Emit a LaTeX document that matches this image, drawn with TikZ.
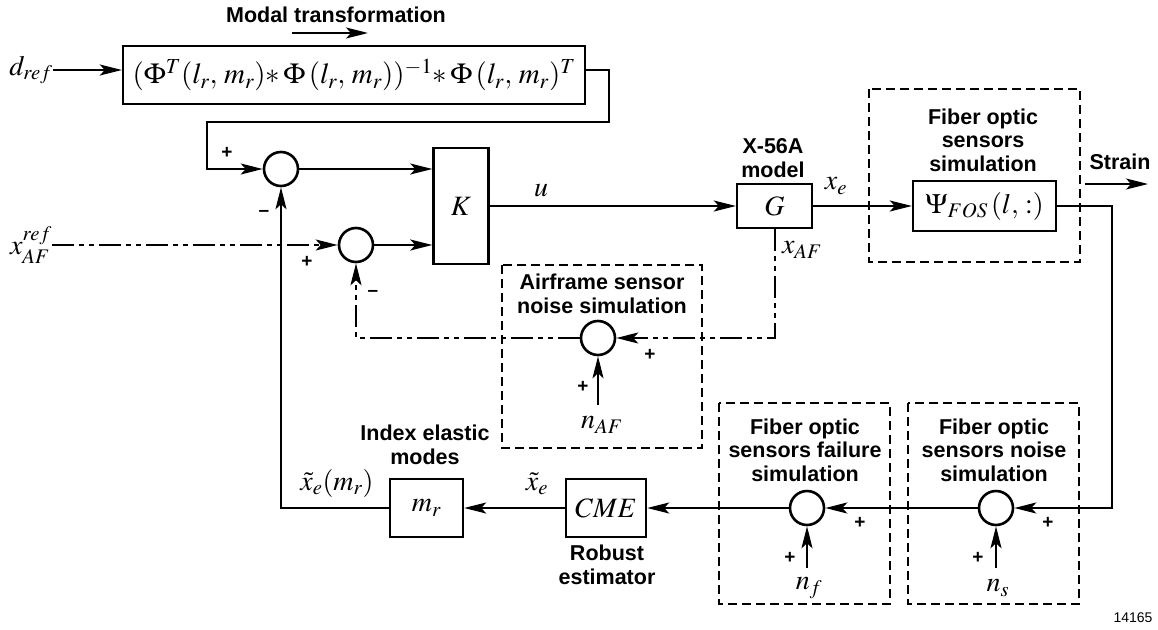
\documentclass[tikz,border=0pt]{standalone}
\usepackage{mathptmx}
\usepackage[no-math]{fontspec}
\setmainfont{Liberation Serif}
\setsansfont{Liberation Sans}
\usetikzlibrary{arrows.meta,calc}
\newcommand\lblfont{\sffamily\bfseries\fontsize{21.5}{23.5}\selectfont}
\newcommand\mthfont{\fontsize{28}{32}\selectfont}
\newcommand\sgnfont{\sffamily\bfseries\fontsize{19}{20}\selectfont}
\begin{document}
\begin{tikzpicture}[x=1pt,y=-1pt,
  lw/.style={line width=2pt},
  arr/.style={line width=2pt,-{Stealth[length=22pt,width=11pt,inset=5pt]}},
  dd/.style={dash pattern=on 22pt off 5pt on 5pt off 5pt on 5pt off 5pt},
  dbox/.style={line width=2.4pt,dash pattern=on 9pt off 5pt},
  blk/.style={draw,line width=2.4pt,inner sep=0pt,font=\mthfont},
  sumc/.style={draw,circle,line width=2.6pt,minimum size=34pt,inner sep=0pt},
  lbl/.style={font=\lblfont,align=center,inner sep=0pt},
  mth/.style={font=\mthfont,inner sep=0pt},
  sgn/.style={font=\sgnfont,inner sep=0pt}]
\useasboundingbox (0,0) rectangle (1158,629);

% top: modal transformation
\node[lbl] (modal) at (336,15) {Modal transformation};
\coordinate (ma1) at (292,33);
\coordinate (ma2) at (368,33);
\draw[arr] (ma1) -- (ma2);
\node[mth] (dref) at (31,70) {$d_{ref}$};
\node[blk,minimum width=462pt,minimum height=58pt,font=\fontsize{29}{32}\selectfont] (tbox) at (354,75)
  {$(\Phi^{T}(l_r,\,m_r){\ast}\,\Phi\,(l_r,\,m_r))^{-1}{\ast}\,\Phi\,(l_r,\,m_r)^{T}$};
\draw[arr] (dref.east) -- (dref.east -| tbox.west);

% summing junctions and K
\node[sumc] (s1) at (281,169) {};
\node[sumc] (s2) at (356,245) {};
\node[blk,minimum width=55pt,minimum height=116pt] (K) at (461,206) {$K$};
\coordinate (c1) at (609,122);
\coordinate (c2) at (207,122);
\draw[arr] (tbox.east |- dref.east) -| (c1) -- (c2) |- (s1);
\draw[arr] (s1) -- (s1 -| K.west);
\draw[arr] (s2) -- (s2 -| K.west);
\node[mth] (xref) at (31,245) {$x^{ref}_{AF}$};
\draw[arr,dd] (xref) -- (s2);
\node[sgn] (p1) at (227,153) {+};
\node[sgn] (m1) at (264,213) {--};
\node[sgn] (p2) at (307,262) {+};
\node[sgn] (m2) at (373,293) {--};

% plant
\node[blk,minimum width=75pt,minimum height=44pt] (G) at (774.5,206) {$G$};
\draw[arr] (K) -- (G);
\node[mth] (u) at (541,191) {$u$};
\node[lbl] (x56) at (773,158) {X-56A\\model};
\node[mth] (xe) at (836,186) {$x_e$};
\node[blk,minimum width=143pt,minimum height=50pt] (psi) at (984.5,206) {$\Psi_{FOS}\,(l,\,:)$};
\draw[arr] (G) -- (psi);
\draw[dbox] (869,89) rectangle (1080,262);
\node[lbl] (fostitle) at (983,140) {Fiber optic\\sensors\\simulation};
\coordinate (st1) at (1085,184);
\coordinate (st2) at (1148,184);
\draw[arr] (st1) -- (st2);
\node[lbl] (strain) at (1120,162) {Strain};

% airframe sensor noise
\draw[dbox] (502,265) rectangle (702,448);
\node[lbl] (aftitle) at (602,294) {Airframe sensor\\noise simulation};
\node[sumc] (sa) at (598,338) {};
\draw[arr,dd] (G) |- (sa);
\node[mth] (xaf) at (802,250) {$x_{AF}$};
\draw[arr,dd] (sa) -| (s2);
\node[sgn] (p3) at (650,355) {+};
\node[sgn] (p4) at (583,387) {+};
\coordinate (nafb) at (598,405);
\draw[arr] (nafb) -- (sa);
\node[mth] (naf) at (602,425) {$n_{AF}$};

% bottom chain
\draw[dbox] (719,403) rectangle (890,604);
\node[lbl] (fftitle) at (805,450) {Fiber optic\\sensors failure\\simulation};
\draw[dbox] (908,403) rectangle (1079,604);
\node[lbl] (fntitle) at (994,450) {Fiber optic\\sensors noise\\simulation};
\node[sumc] (ns) at (996,508) {};
\node[sumc] (nf) at (807,508) {};
\node[blk,minimum width=80pt,minimum height=58pt] (CME) at (606,508) {$CME$};
\node[blk,minimum width=73pt,minimum height=58pt] (mr) at (426.5,508) {$m_r$};
\coordinate (fb) at (1112,206);
\draw[arr] (psi) -- (fb) |- (ns);
\draw[arr] (ns) -- (nf);
\draw[arr] (nf) -- (CME);
\draw[arr] (CME) -- (mr);
\draw[arr] (mr) -| (s1);
\node[sgn] (p5) at (1048,523) {+};
\node[sgn] (p6) at (860,523) {+};
\node[sgn] (p7) at (978,558) {+};
\node[sgn] (p8) at (790,558) {+};
\coordinate (nsb) at (996,568);
\coordinate (nfb) at (807,568);
\draw[arr] (nsb) -- (ns);
\draw[arr] (nfb) -- (nf);
\node[mth] (nsl) at (998,588) {$n_s$};
\node[mth] (nfl) at (809,588) {$n_f$};
\node[mth] (xet) at (537,484) {$\tilde{x}_e$};
\node[mth] (xemr) at (337,483) {$\tilde{x}_e(m_r)$};
\node[lbl] (robust) at (607,565) {Robust\\estimator};
\node[lbl] (index) at (425,445) {Index elastic\\modes};
\node[font=\sffamily\fontsize{14}{16}\selectfont,inner sep=0pt] (num) at (1133,618) {14165};
\end{tikzpicture}
\end{document}
